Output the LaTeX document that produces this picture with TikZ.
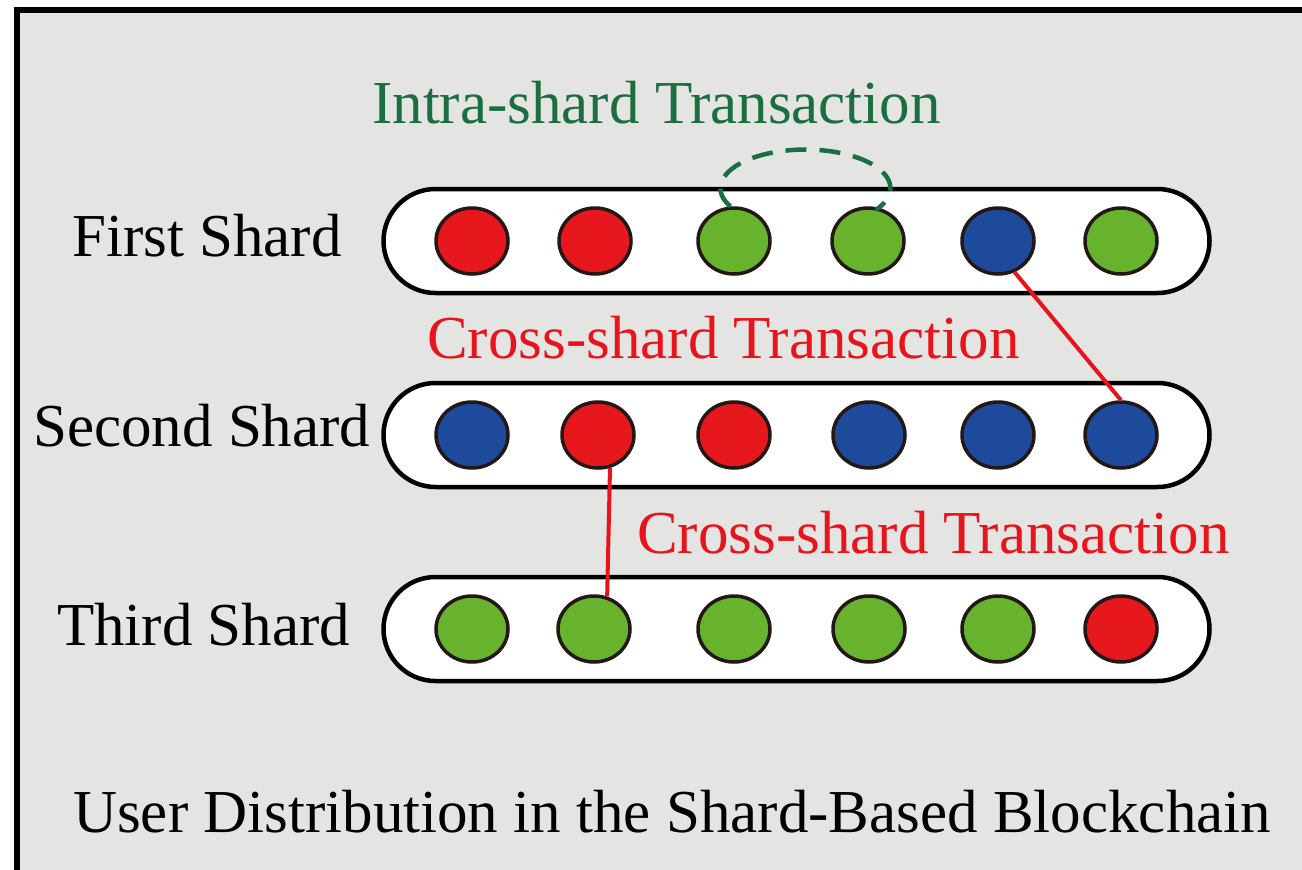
\documentclass[tikz,border=0pt]{standalone}
\usepackage{fontspec}
\setmainfont{Liberation Serif}
\usetikzlibrary{shapes.geometric}
\definecolor{panel}{HTML}{E4E4E3}
\definecolor{ring}{HTML}{231815}
\definecolor{ured}{HTML}{E6171D}
\definecolor{ugreen}{HTML}{67B32E}
\definecolor{ublue}{HTML}{1E4A9C}
\definecolor{txgreen}{HTML}{1A6E3F}
\definecolor{txred}{HTML}{E8141C}
\begin{document}
\begin{tikzpicture}[x=1pt,y=1pt,
  user/.style={ellipse, draw=ring, line width=3.5pt, minimum width=72pt,
               minimum height=66pt, inner sep=0pt},
  shardbox/.style={draw=black, line width=4.5pt, fill=white, rounded corners=52pt,
                   minimum width=826pt, minimum height=104pt, inner sep=0pt},
  label/.style={anchor=base west, inner sep=0pt,
                font=\fontsize{61}{70}\selectfont},
  cross/.style={draw=txred, line width=4pt},
  intra/.style={draw=txgreen, line width=4.5pt, dash pattern=on 21pt off 13pt}]
\useasboundingbox (0,0) rectangle (1302,-870);
\fill[white] (0,0) rectangle (1302,-870);
\draw[line width=6pt, fill=panel] (17,-10) rectangle (1330,-900);

% shard containers
\node[shardbox] (s1) at (796.5,-241) {};
\node[shardbox] (s2) at (796.5,-435) {};
\node[shardbox] (s3) at (796.5,-629) {};

% users in each shard
\foreach \c/\x/\col in {1/472/ured,2/595/ured,3/734/ugreen,4/868/ugreen,5/998/ublue,6/1121/ugreen}
  \node[user, fill=\col] (u1\c) at (\x,-241) {};
\foreach \c/\x/\col in {1/472/ublue,2/598/ured,3/734/ured,4/869/ublue,5/998/ublue,6/1121/ublue}
  \node[user, fill=\col] (u2\c) at (\x,-435) {};
\foreach \c/\x/\col in {1/472/ugreen,2/594/ugreen,3/734/ugreen,4/869/ugreen,5/998/ugreen,6/1121/ured}
  \node[user, fill=\col] (u3\c) at (\x,-629) {};

% shard names
\node[label] (n1) at (72,-256) {First Shard};
\node[label] (n2) at (33,-446) {Second Shard};
\node[label] (n3) at (57,-645) {Third Shard};

% transactions
\draw[intra] (u13.96) arc[start angle=208, end angle=-34, x radius=85, y radius=38.7];
\node[label, text=txgreen] (t1) at (372,-123) {Intra-shard Transaction};

\draw[cross] (u15.-62) -- (u26.north);
\node[label, text=txred] (t2) at (427,-358) {Cross-shard Transaction};

\draw[cross] (u22.-70) -- (u32.68);
\node[label, text=txred] (t3) at (637,-553) {Cross-shard Transaction};

% caption
\node[label] (cap) at (73,-832) {User Distribution in the Shard-Based Blockchain};
\end{tikzpicture}
\end{document}
